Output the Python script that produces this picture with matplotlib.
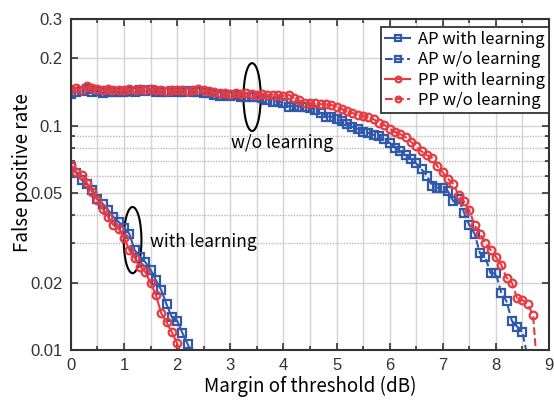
import matplotlib
matplotlib.use('Agg')
import matplotlib.pyplot as plt
from matplotlib.patches import Ellipse
from matplotlib.ticker import FixedLocator, NullFormatter, FixedFormatter
import numpy as np

# margin of threshold (dB), 0.1 dB step
x_learn_pp = [round(0.1 * i, 1) for i in range(22)]
x_learn_ap = [round(0.1 * i, 1) for i in range(24)]
x_wo_ap = [round(0.1 * i, 1) for i in range(87)]
x_wo_pp = [round(0.1 * i, 1) for i in range(89)]

ap_learn = [0.0656, 0.0617, 0.0574, 0.0551, 0.0518, 0.0472, 0.0449, 0.0422,
            0.0392, 0.0373, 0.0351, 0.0330, 0.0279, 0.0260, 0.0247, 0.0228,
            0.0205, 0.0185, 0.0160, 0.0140, 0.0135, 0.0119, 0.0106, 0.0094]
pp_learn = [0.0670, 0.0624, 0.0604, 0.0557, 0.0507, 0.0467, 0.0426, 0.0392,
            0.0361, 0.0347, 0.0316, 0.0279, 0.0257, 0.0235, 0.0223, 0.0199,
            0.0176, 0.0146, 0.0133, 0.0120, 0.0107, 0.0092]

ap_wo = [0.139, 0.142, 0.143, 0.146, 0.141, 0.143, 0.140, 0.141, 0.142, 0.141,
         0.142, 0.143, 0.142, 0.144, 0.143, 0.144, 0.142, 0.141, 0.142, 0.143,
         0.141, 0.142, 0.143, 0.142, 0.141, 0.140, 0.140, 0.137, 0.136, 0.138,
         0.136, 0.137, 0.135, 0.135, 0.134, 0.134, 0.133, 0.131, 0.128, 0.129,
         0.126, 0.122, 0.123, 0.122, 0.122, 0.120, 0.118, 0.114, 0.110, 0.110,
         0.107, 0.105, 0.102, 0.099, 0.097, 0.094, 0.093, 0.091, 0.090, 0.087,
         0.084, 0.080, 0.077, 0.074, 0.071, 0.068, 0.064, 0.060, 0.054, 0.053,
         0.053, 0.051, 0.046, 0.047, 0.041, 0.036, 0.033, 0.027, 0.026, 0.022,
         0.022, 0.018, 0.0165, 0.0135, 0.0127, 0.0120, 0.0092]
pp_wo = [0.146, 0.147, 0.145, 0.150, 0.147, 0.146, 0.144, 0.146, 0.145, 0.144,
         0.145, 0.146, 0.145, 0.146, 0.145, 0.146, 0.144, 0.145, 0.143, 0.144,
         0.145, 0.144, 0.143, 0.144, 0.146, 0.145, 0.143, 0.141, 0.140, 0.140,
         0.139, 0.140, 0.139, 0.140, 0.139, 0.138, 0.139, 0.137, 0.138, 0.137,
         0.136, 0.138, 0.133, 0.130, 0.127, 0.126, 0.126, 0.125, 0.125, 0.124,
         0.122, 0.119, 0.116, 0.114, 0.112, 0.111, 0.110, 0.107, 0.103, 0.101,
         0.097, 0.094, 0.092, 0.089, 0.085, 0.081, 0.077, 0.074, 0.072, 0.066,
         0.062, 0.058, 0.055, 0.049, 0.046, 0.042, 0.036, 0.033, 0.030, 0.028,
         0.026, 0.024, 0.021, 0.020, 0.017, 0.0167, 0.0160, 0.0143, 0.0070]

y_major = [0.01, 0.02, 0.05, 0.1, 0.2, 0.3]
y_major_labels = ['0.01', '0.02', '0.05', '0.1', '0.2', '0.3']
y_minor = [0.03, 0.04, 0.06, 0.07, 0.08, 0.09]

blue = '#3059ab'
red = '#e83a40'
jp = ['Noto Sans CJK JP', 'DejaVu Sans']

fig = plt.figure(figsize=(5.54, 4.03), dpi=100)
ax = fig.add_axes([0.128, 0.1315, 0.863, 0.8215])

mk = dict(markersize=5.5, markeredgewidth=1.6, linewidth=1.5, markerfacecolor='none')
ax.plot(x_learn_ap, ap_learn, '-', marker='s', color=blue, label='AP with learning', **mk)
ax.plot(x_wo_ap, ap_wo, '--', marker='s', color=blue, label='AP w/o learning', **mk)
ax.plot(x_learn_pp, pp_learn, '-', marker='o', color=red, label='PP with learning', **mk)
ax.plot(x_wo_pp, pp_wo, '--', marker='o', color=red, label='PP w/o learning', **mk)

ax.set_yscale('log')
ax.set_xlim(0, 9)
ax.set_ylim(0.01, 0.3)
ax.xaxis.set_major_locator(FixedLocator(range(10)))
ax.xaxis.set_minor_locator(FixedLocator(np.arange(0.5, 9, 1.0)))
ax.yaxis.set_major_locator(FixedLocator(y_major))
ax.yaxis.set_major_formatter(FixedFormatter(y_major_labels))
ax.yaxis.set_minor_locator(FixedLocator(y_minor))
ax.yaxis.set_minor_formatter(NullFormatter())

ax.grid(True, which='major', axis='both', color='#d4d4d4', linewidth=1.0, linestyle='-')
ax.grid(True, which='minor', axis='x', color='#d4d4d4', linewidth=1.0, linestyle='-')
ax.grid(True, which='minor', axis='y', color='#b8b8b8', linewidth=1.0, linestyle=(0, (1, 1)))
ax.set_axisbelow(True)

ax.tick_params(which='both', direction='in', top=True, right=True, colors='#333333',
               labelcolor='#333333', width=1.2)
ax.tick_params(which='major', length=5, labelsize=12, pad=6)
ax.tick_params(which='minor', length=3)
for lab in ax.get_xticklabels() + ax.get_yticklabels():
    lab.set_family('Liberation Sans')
for s in ax.spines.values():
    s.set_linewidth(1.5)
    s.set_color('#333333')

ax.set_xlabel('Margin of threshold (dB)', family=jp, fontsize=13.5, labelpad=2)
ax.set_ylabel('False positive rate', family=jp, fontsize=13.5)
ax.yaxis.set_label_coords(-0.08, 0.535)

leg = ax.legend(loc='upper right', bbox_to_anchor=(1.0, 0.976), borderaxespad=0,
                prop={'family': jp, 'size': 12}, fancybox=False, framealpha=1,
                edgecolor='#333333', handlelength=1.5, borderpad=0.25,
                labelspacing=0.2, handletextpad=0.45, markerscale=0.75)
leg.get_frame().set_linewidth(1.3)

# ellipses and notes
ax.add_patch(Ellipse((0.379, 0.764), 0.036, 0.205, transform=ax.transAxes,
                     fill=False, edgecolor='black', linewidth=1.5))
ax.add_patch(Ellipse((0.129, 0.332), 0.037, 0.2, transform=ax.transAxes,
                     fill=False, edgecolor='black', linewidth=1.5))
ax.text(0.335, 0.625, 'w/o learning', transform=ax.transAxes, family=jp,
        fontsize=12.5, va='center')
ax.text(0.165, 0.326, 'with learning', transform=ax.transAxes, family=jp,
        fontsize=12.5, va='center')

fig.savefig('out.png', dpi=100)
